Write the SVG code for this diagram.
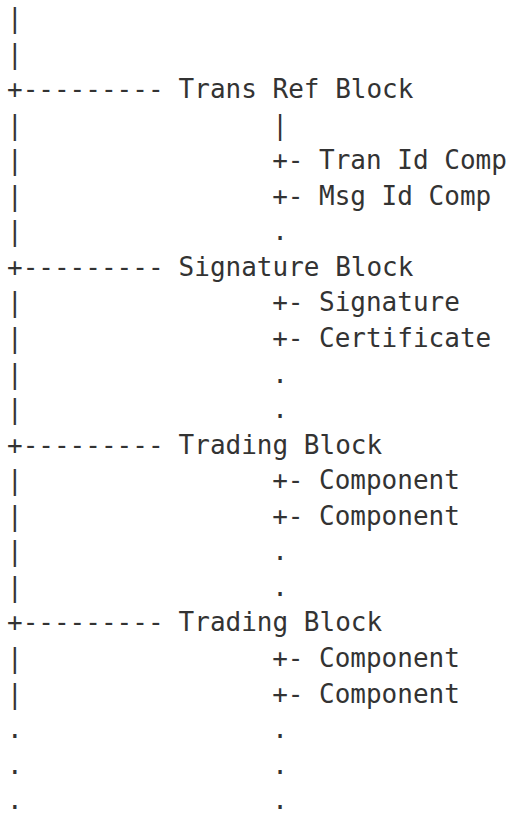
<svg xmlns="http://www.w3.org/2000/svg" width="510" height="813" viewBox="0 0 510 813">
<style>
text{font-family:"DejaVu Sans Mono","Liberation Mono",monospace;font-size:26px;fill:#333;white-space:pre}
</style>
<rect width="510" height="813" fill="#fff"/>
<g id="connectors">
<text x="7" y="27">|</text>
<text x="7" y="62.6">|</text>
<text x="7" y="98.1">+---------</text>
<text x="7" y="133.7">|</text>
<text x="7" y="169.2">|</text>
<text x="7" y="204.8">|</text>
<text x="7" y="240.3">|</text>
<text x="7" y="275.9">+---------</text>
<text x="7" y="311.4">|</text>
<text x="7" y="347">|</text>
<text x="7" y="382.5">|</text>
<text x="7" y="418.1">|</text>
<text x="7" y="453.6">+---------</text>
<text x="7" y="489.2">|</text>
<text x="7" y="524.7">|</text>
<text x="7" y="560.3">|</text>
<text x="7" y="595.8">|</text>
<text x="7" y="631.4">+---------</text>
<text x="7" y="666.9">|</text>
<text x="7" y="702.5">|</text>
<text x="7" y="738">.</text>
<text x="7" y="773.6">.</text>
<text x="7" y="809.1">.</text>
<text x="272.2" y="133.7">|</text>
<text x="272.2" y="169.2">+-</text>
<text x="272.2" y="204.8">+-</text>
<text x="272.2" y="240.3">.</text>
<text x="272.2" y="311.4">+-</text>
<text x="272.2" y="347">+-</text>
<text x="272.2" y="382.5">.</text>
<text x="272.2" y="418.1">.</text>
<text x="272.2" y="489.2">+-</text>
<text x="272.2" y="524.7">+-</text>
<text x="272.2" y="560.3">.</text>
<text x="272.2" y="595.8">.</text>
<text x="272.2" y="666.9">+-</text>
<text x="272.2" y="702.5">+-</text>
<text x="272.2" y="738">.</text>
<text x="272.2" y="773.6">.</text>
<text x="272.2" y="809.1">.</text>
</g>
<g id="trans-ref-block">
<text x="178.6" y="98.1">Trans Ref Block</text>
<text x="319" y="169.2">Tran Id Comp</text>
<text x="319" y="204.8">Msg Id Comp</text>
</g>
<g id="signature-block">
<text x="178.6" y="275.9">Signature Block</text>
<text x="319" y="311.4">Signature</text>
<text x="319" y="347">Certificate</text>
</g>
<g id="trading-block-1">
<text x="178.6" y="453.6">Trading Block</text>
<text x="319" y="489.2">Component</text>
<text x="319" y="524.7">Component</text>
</g>
<g id="trading-block-2">
<text x="178.6" y="631.4">Trading Block</text>
<text x="319" y="666.9">Component</text>
<text x="319" y="702.5">Component</text>
</g>
</svg>
